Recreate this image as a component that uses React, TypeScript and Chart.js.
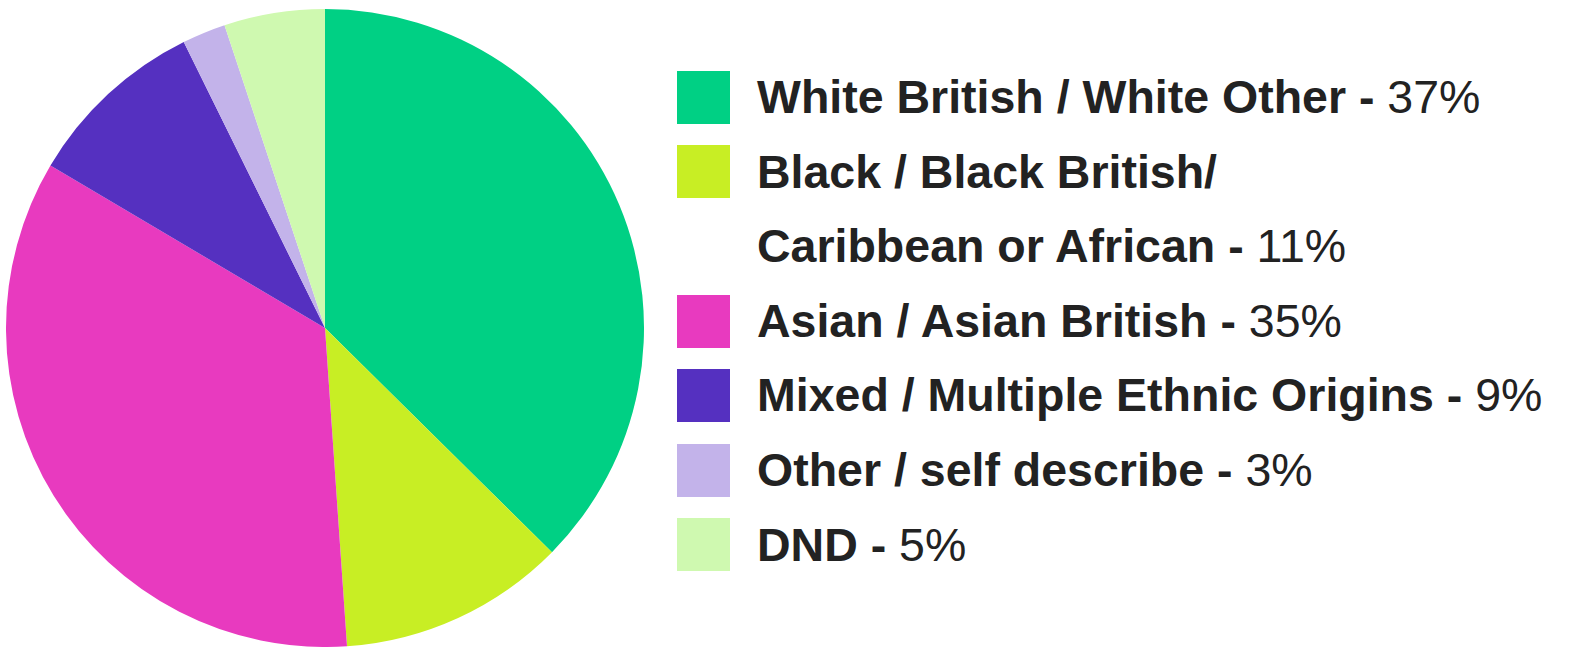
import React, { useEffect, useRef } from "react";
import { Chart, registerables } from "chart.js";

Chart.register(...registerables);

const categories = [
  "White British / White Other",
  "Black / Black British/ Caribbean or African",
  "Asian / Asian British",
  "Mixed / Multiple Ethnic Origins",
  "Other / self describe",
  "DND",
];
const legendLines = [
  ["White British / White Other"],
  ["Black / Black British/", "Caribbean or African"],
  ["Asian / Asian British"],
  ["Mixed / Multiple Ethnic Origins"],
  ["Other / self describe"],
  ["DND"],
];
// slice sizes as drawn in the picture
const values = [37.4, 11.5, 34.6, 9.2, 2.2, 5.1];
// percentages printed in the legend
const percentLabels = ["37%", "11%", "35%", "9%", "3%", "5%"];
const colors = ["#00D084", "#C8EE24", "#E83ABF", "#5530C0", "#C3B3EA", "#CFF9B0"];

const FONT = "'Liberation Sans', Arial, Helvetica, sans-serif";
const ROW_TOP = 60;
const ROW_H = 74.6;

export default function App() {
  const canvasRef = useRef<HTMLCanvasElement | null>(null);

  useEffect(() => {
    if (!canvasRef.current) return;
    const chart = new Chart(canvasRef.current, {
      type: "pie",
      data: {
        labels: categories,
        datasets: [
          {
            data: values,
            backgroundColor: colors,
            borderWidth: 0,
          },
        ],
      },
      options: {
        animation: false,
        responsive: false,
        maintainAspectRatio: false,
        layout: { padding: 0 },
        plugins: {
          legend: { display: false },
          tooltip: { enabled: false },
        },
      },
    });
    return () => chart.destroy();
  }, []);

  const rows: React.ReactNode[] = [];
  let rowIndex = 0;
  legendLines.forEach((lines, i) => {
    lines.forEach((line, j) => {
      const isLast = j === lines.length - 1;
      const top = ROW_TOP + rowIndex * ROW_H;
      rows.push(
        <div
          key={`${i}-${j}`}
          style={{
            position: "absolute",
            left: 0,
            top,
            height: ROW_H,
            display: "flex",
            alignItems: "center",
            whiteSpace: "nowrap",
          }}
        >
          <div
            style={{
              width: 53,
              height: 53,
              background: j === 0 ? colors[i] : "transparent",
              marginRight: 27,
              flex: "0 0 auto",
            }}
          />
          <span style={{ fontFamily: FONT, fontSize: 46.5, color: "#222222", lineHeight: 1 }}>
            <span style={{ fontWeight: 700 }}>{line}</span>
            {isLast ? (
              <>
                <span style={{ fontWeight: 700 }}> -</span>
                <span style={{ fontWeight: 400 }}> {percentLabels[i]}</span>
              </>
            ) : null}
          </span>
        </div>
      );
      rowIndex++;
    });
  });

  return (
    <div
      style={{
        position: "absolute",
        left: 0,
        top: 0,
        width: 1577,
        height: 653,
        background: "#ffffff",
        overflow: "hidden",
      }}
    >
      <div style={{ position: "absolute", left: 6, top: 9, width: 638, height: 638 }}>
        <canvas ref={canvasRef} width={638} height={638} style={{ width: 638, height: 638 }} />
      </div>
      <div style={{ position: "absolute", left: 677, top: 0, width: 900, height: 653 }}>{rows}</div>
    </div>
  );
}
